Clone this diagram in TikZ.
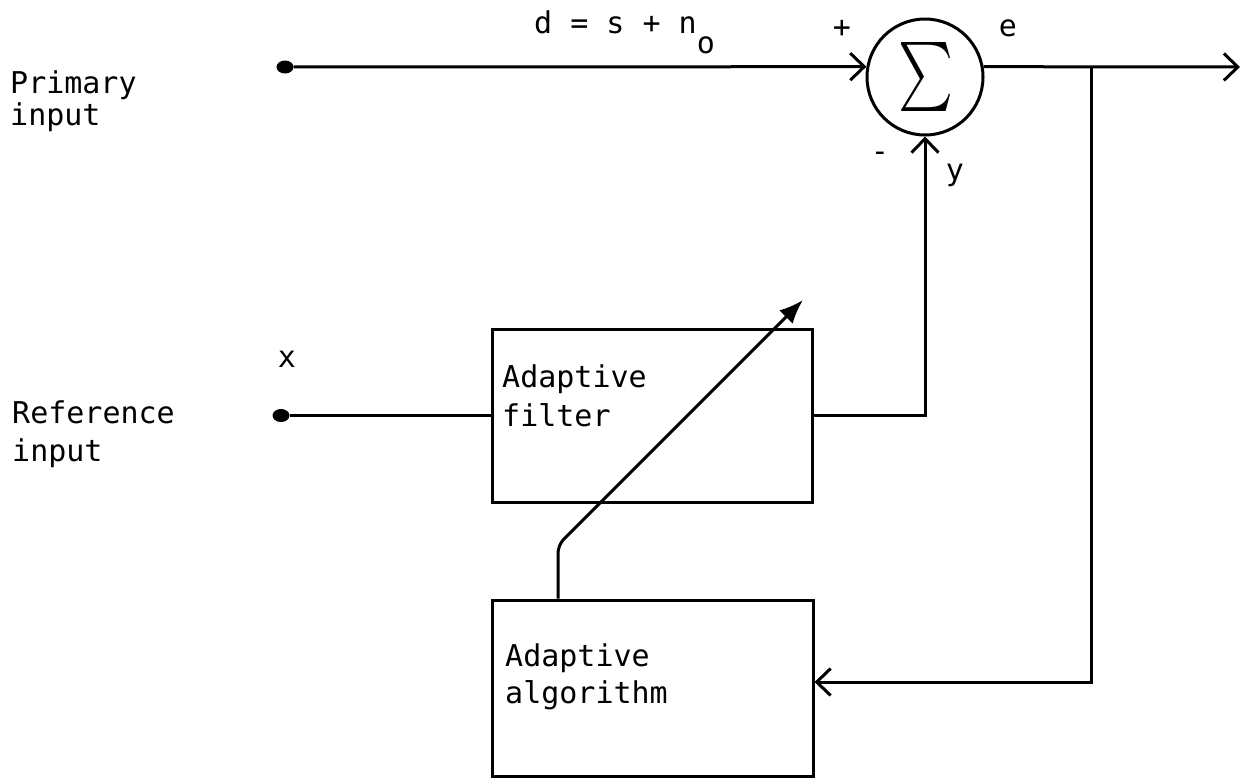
\documentclass[tikz,border=0pt]{standalone}
\usepackage{fontspec}
\usepackage{graphicx}
\newfontfamily\dmono{DejaVu Sans Mono}
\usetikzlibrary{arrows.meta,shapes.geometric,calc}
\begin{document}
\begin{tikzpicture}[x=1pt,y=-1pt,
  lw/.style={line width=3pt},
  txt/.style={font=\dmono\fontsize{30}{36}\selectfont, inner sep=0pt, anchor=base west},
  lbl/.style={font=\dmono\fontsize{30}{36}\selectfont, inner sep=0pt},
  blk/.style={draw, line width=3pt, rectangle, inner sep=0pt},
  dotnode/.style={ellipse, fill=black, draw=none, minimum width=17pt, minimum height=13pt, inner sep=0pt},
  barb/.style={-{Straight Barb[length=14pt,width=27pt]}},
]
\useasboundingbox (0,0) rectangle (1253,777);

% blocks
\node[circle, draw, line width=3pt, minimum size=116pt, inner sep=0pt] (sum) at (925,77) {};
\node[inner sep=0pt] (sig) at (926,77) {\resizebox*{55pt}{69pt}{$\sum$}};
\node[blk, minimum width=320pt, minimum height=173pt] (filt) at (652,415.5) {};
\node[blk, minimum width=321pt, minimum height=176pt] (alg) at (652.5,688) {};

% terminals
\node[dotnode] (pdot) at (285,67) {};
\node[dotnode] (rdot) at (281,415.5) {};
\coordinate (out) at (1240,67);
\coordinate (br) at (1091,67);
\coordinate (bend) at (558,545);
\coordinate (tip) at (803,300);

% texts
\node[txt] (p1) at (10,93) {Primary};
\node[txt] (p2) at (10,125) {input};
\node[txt] (r1) at (12,423) {Reference};
\node[txt] (r2) at (12,461) {input};
\node[txt] (f1) at (502,387) {Adaptive};
\node[txt] (f2) at (502,426) {filter};
\node[txt] (a1) at (505,666) {Adaptive};
\node[txt] (a2) at (505,703) {algorithm};
\node[txt] (dl) at (534,33) {d = s + n\raisebox{-20pt}{o}};
\node[lbl, anchor=base] (xl) at (287,367) {x};
\node[lbl] (plus) at (842,29) {+};
\node[lbl, anchor=base] (el) at (1008,36) {e};
\node[lbl] (minus) at (880,157) {-};
\node[lbl, anchor=base] (yl) at (955,180) {y};

% connectors
\draw[lw,barb] (pdot) -- (sum.170);
\draw[lw,barb] (sum.10) -- (out);
\draw[lw,barb] (br) |- ([yshift=6pt]alg.east);
\draw[lw] (rdot) -- (filt.west);
\draw[lw,barb] (filt.east) -| (sum.south);
\draw[lw, rounded corners=8pt, -{Latex[length=24pt,width=19pt]}] (alg.north -| bend) -- (bend) -- (tip);
\end{tikzpicture}
\end{document}
